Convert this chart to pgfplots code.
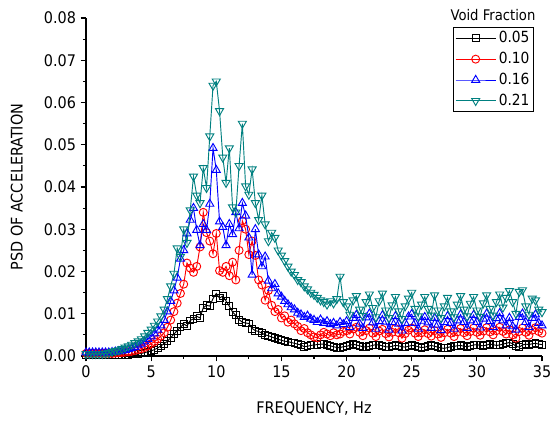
\documentclass[border=0pt]{standalone}
\usepackage{pgfplots}
\pgfplotsset{compat=1.18}
\usepackage{pgfplotstable}
\usepackage{fontspec}
\setmainfont{DejaVu Sans Condensed}
\definecolor{vfteal}{RGB}{0,128,128}

% f = frequency (Hz); a..d = void fraction 0.05, 0.10, 0.16, 0.21
\pgfplotstableread{
f a b c d
0.00 0.0003 0.0006 0.0008 0.0005
0.25 0.0003 0.0006 0.0008 0.0005
0.50 0.0003 0.0006 0.0008 0.0005
0.75 0.0003 0.0006 0.0008 0.0005
1.00 0.0003 0.0006 0.0008 0.0005
1.25 0.0003 0.0006 0.0008 0.0005
1.50 0.0003 0.0006 0.0008 0.0006
1.75 0.0003 0.0006 0.0008 0.0007
2.00 0.0003 0.0006 0.0009 0.0010
2.25 0.0003 0.0007 0.0010 0.0012
2.50 0.0003 0.0008 0.0011 0.0014
2.75 0.0003 0.0008 0.0012 0.0017
3.00 0.0003 0.0009 0.0014 0.0020
3.25 0.0003 0.0010 0.0016 0.0023
3.50 0.0004 0.0011 0.0018 0.0027
3.75 0.0004 0.0013 0.0021 0.0031
4.00 0.0005 0.0015 0.0025 0.0035
4.25 0.0006 0.0017 0.0029 0.0040
4.50 0.0008 0.0020 0.0034 0.0047
4.75 0.0010 0.0024 0.0040 0.0055
5.00 0.0012 0.0029 0.0046 0.0063
5.25 0.0015 0.0034 0.0053 0.0072
5.50 0.0019 0.0040 0.0062 0.0082
5.75 0.0024 0.0047 0.0072 0.0094
6.00 0.0029 0.0055 0.0085 0.0110
6.25 0.0035 0.0068 0.0105 0.0135
6.50 0.0043 0.0085 0.0130 0.0165
6.75 0.0052 0.0105 0.0155 0.0195
7.00 0.0060 0.0125 0.0185 0.0255
7.25 0.0068 0.0148 0.0230 0.0235
7.50 0.0076 0.0170 0.0250 0.0300
7.75 0.0071 0.0220 0.0290 0.0268
8.00 0.0084 0.0208 0.0322 0.0345
8.25 0.0088 0.0198 0.0350 0.0425
8.50 0.0094 0.0212 0.0298 0.0380
8.75 0.0090 0.0258 0.0262 0.0362
9.00 0.0114 0.0340 0.0312 0.0445
9.25 0.0120 0.0292 0.0298 0.0398
9.50 0.0118 0.0272 0.0360 0.0520
9.75 0.0136 0.0242 0.0492 0.0640
10.00 0.0148 0.0290 0.0440 0.0650
10.25 0.0137 0.0202 0.0318 0.0580
10.50 0.0142 0.0198 0.0305 0.0470
10.75 0.0130 0.0212 0.0262 0.0410
11.00 0.0118 0.0190 0.0312 0.0492
11.25 0.0104 0.0222 0.0288 0.0352
11.50 0.0096 0.0180 0.0340 0.0340
11.75 0.0086 0.0250 0.0302 0.0450
12.00 0.0080 0.0320 0.0362 0.0550
12.25 0.0078 0.0300 0.0332 0.0402
12.50 0.0077 0.0240 0.0280 0.0382
12.75 0.0065 0.0272 0.0192 0.0442
13.00 0.0060 0.0238 0.0300 0.0362
13.25 0.0058 0.0180 0.0240 0.0322
13.50 0.0054 0.0168 0.0212 0.0380
13.75 0.0050 0.0132 0.0235 0.0312
14.00 0.0048 0.0155 0.0178 0.0272
14.25 0.0045 0.0120 0.0160 0.0292
14.50 0.0042 0.0105 0.0170 0.0280
14.75 0.0040 0.0110 0.0148 0.0250
15.00 0.0037 0.0090 0.0140 0.0238
15.25 0.0035 0.0095 0.0130 0.0225
15.50 0.0034 0.0080 0.0122 0.0212
15.75 0.0032 0.0085 0.0115 0.0200
16.00 0.0030 0.0076 0.0110 0.0192
16.25 0.0028 0.0070 0.0102 0.0180
16.50 0.0026 0.0060 0.0098 0.0175
16.75 0.0022 0.0065 0.0092 0.0165
17.00 0.0023 0.0055 0.0095 0.0158
17.25 0.0025 0.0050 0.0088 0.0150
17.50 0.0026 0.0045 0.0085 0.0145
17.75 0.0027 0.0043 0.0080 0.0138
18.00 0.0028 0.0050 0.0086 0.0132
18.25 0.0028 0.0056 0.0078 0.0128
18.50 0.0026 0.0052 0.0082 0.0122
18.75 0.0024 0.0048 0.0075 0.0130
19.00 0.0022 0.0055 0.0078 0.0125
19.25 0.0020 0.0050 0.0072 0.0135
19.50 0.0020 0.0052 0.0080 0.0188
19.75 0.0022 0.0058 0.0075 0.0128
20.00 0.0023 0.0060 0.0082 0.0118
20.25 0.0025 0.0052 0.0068 0.0098
20.50 0.0028 0.0064 0.0090 0.0132
20.75 0.0026 0.0068 0.0097 0.0142
21.00 0.0024 0.0056 0.0076 0.0110
21.25 0.0022 0.0048 0.0066 0.0095
21.50 0.0021 0.0060 0.0091 0.0128
21.75 0.0023 0.0066 0.0100 0.0146
22.00 0.0025 0.0054 0.0079 0.0114
22.25 0.0027 0.0046 0.0064 0.0092
22.50 0.0026 0.0059 0.0082 0.0130
22.75 0.0024 0.0063 0.0096 0.0148
23.00 0.0022 0.0053 0.0081 0.0108
23.25 0.0021 0.0045 0.0062 0.0090
23.50 0.0023 0.0056 0.0080 0.0120
23.75 0.0025 0.0065 0.0094 0.0140
24.00 0.0024 0.0055 0.0076 0.0106
24.25 0.0022 0.0042 0.0060 0.0088
24.50 0.0021 0.0053 0.0078 0.0118
24.75 0.0023 0.0061 0.0093 0.0136
25.00 0.0025 0.0066 0.0099 0.0150
25.25 0.0024 0.0054 0.0078 0.0112
25.50 0.0022 0.0046 0.0064 0.0094
25.75 0.0020 0.0055 0.0083 0.0122
26.00 0.0021 0.0062 0.0092 0.0140
26.25 0.0023 0.0053 0.0079 0.0112
26.50 0.0025 0.0047 0.0066 0.0096
26.75 0.0023 0.0060 0.0090 0.0144
27.00 0.0021 0.0052 0.0074 0.0108
27.25 0.0019 0.0044 0.0061 0.0090
27.50 0.0018 0.0055 0.0080 0.0118
27.75 0.0020 0.0063 0.0094 0.0138
28.00 0.0022 0.0054 0.0078 0.0106
28.25 0.0023 0.0046 0.0064 0.0092
28.50 0.0024 0.0057 0.0084 0.0122
28.75 0.0025 0.0065 0.0098 0.0142
29.00 0.0023 0.0055 0.0080 0.0110
29.25 0.0022 0.0048 0.0066 0.0094
29.50 0.0024 0.0058 0.0084 0.0124
29.75 0.0026 0.0066 0.0097 0.0140
30.00 0.0027 0.0056 0.0080 0.0108
30.25 0.0025 0.0049 0.0067 0.0093
30.50 0.0024 0.0059 0.0088 0.0125
30.75 0.0026 0.0067 0.0100 0.0144
31.00 0.0028 0.0057 0.0082 0.0112
31.25 0.0027 0.0050 0.0068 0.0096
31.50 0.0025 0.0060 0.0089 0.0128
31.75 0.0026 0.0068 0.0101 0.0146
32.00 0.0028 0.0058 0.0084 0.0115
32.25 0.0030 0.0052 0.0072 0.0138
32.50 0.0032 0.0062 0.0090 0.0154
32.75 0.0029 0.0050 0.0070 0.0128
33.00 0.0023 0.0042 0.0062 0.0100
33.25 0.0021 0.0058 0.0092 0.0152
33.50 0.0026 0.0066 0.0100 0.0156
33.75 0.0028 0.0056 0.0080 0.0118
34.00 0.0027 0.0049 0.0068 0.0098
34.25 0.0029 0.0061 0.0090 0.0136
34.50 0.0030 0.0067 0.0098 0.0132
34.75 0.0028 0.0058 0.0078 0.0110
35.00 0.0027 0.0054 0.0072 0.0104
}\psd

\begin{document}
\begin{tikzpicture}
  \begin{axis}[
      scale only axis,
      width=342pt,
      height=253.5pt,
      xmin=0, xmax=35,
      ymin=0, ymax=0.08,
      axis lines*=left,
      axis line style={line width=0.8pt},
      tick align=outside,
      tick style={line width=0.8pt, black},
      major tick length=4pt,
      minor tick length=2.25pt,
      xtick distance=5,
      ytick distance=0.01,
      minor x tick num=1,
      minor y tick num=1,
      scaled y ticks=false,
      yticklabel style={/pgf/number format/.cd, fixed, fixed zerofill, precision=2},
      /pgf/number format/assume math mode=true,
      tick label style={font=\fontsize{12}{14}\selectfont},
      label style={font=\fontsize{12}{14}\selectfont},
      xlabel={FREQUENCY, Hz},
      ylabel={PSD OF ACCELERATION},
      xlabel shift=11pt,
      ylabel shift=9pt,
      clip mode=individual,
      legend cell align=left,
      legend style={at={(0.9825,0.973)}, anchor=north east, draw=black,
        line width=0.75pt, font=\fontsize{11.5}{13}\selectfont,
        inner sep=1pt, row sep=1.6pt},
      legend image code/.code={
        \draw[mark repeat=2, mark phase=2] plot coordinates {(0pt,0pt) (15pt,0pt) (30pt,0pt)};},
      every axis plot/.append style={line width=0.7pt, mark options={solid, fill=none}},
    ]
    \addplot[black, mark=square, mark size=2.6pt] table[x=f, y=a] {\psd};
    \addlegendentry{0.05}
    \addplot[red, mark=o, mark size=3pt] table[x=f, y=b] {\psd};
    \addlegendentry{0.10}
    \addplot[blue, mark=triangle, mark size=3.5pt] table[x=f, y=c] {\psd};
    \addlegendentry{0.16}
    \addplot[vfteal, mark=triangle, mark size=3.5pt, mark options={rotate=180}] table[x=f, y=d] {\psd};
    \addlegendentry{0.21}
    \node[anchor=base, font=\fontsize{11}{13}\selectfont] at (rel axis cs:0.8925,0.994) {Void Fraction};
  \end{axis}
  \path ([xshift=-64.5pt, yshift=-48pt]current axis.south west)
    rectangle ([xshift=12.75pt, yshift=13.5pt]current axis.north east);
\end{tikzpicture}
\end{document}
